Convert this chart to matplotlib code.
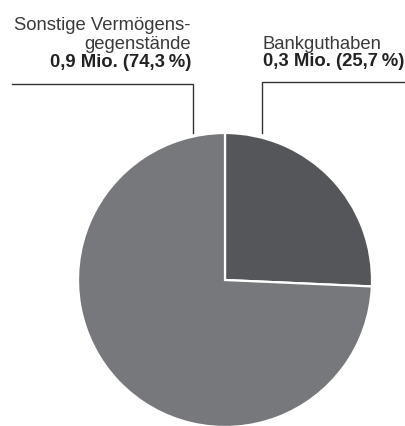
import matplotlib
matplotlib.use("Agg")
import matplotlib.pyplot as plt

categories = ["Bankguthaben", "Sonstige Vermögensgegenstände"]
values = [25.7, 74.3]
amounts = ["0,3 Mio.", "0,9 Mio."]
colors = ["#55565a", "#77787c"]

plt.rcParams['font.family'] = ['Liberation Sans', 'DejaVu Sans']

W, H = 405, 427
fig = plt.figure(figsize=(W / 100, H / 100), dpi=100)
ax = fig.add_axes([0, 0, 1, 1])

cx, cy, r = 225, H - 281, 147
ax.pie(values, colors=colors, startangle=90, counterclock=False,
       center=(cx, cy), radius=r,
       wedgeprops=dict(edgecolor="white", linewidth=1.6))
ax.set_xlim(0, W)
ax.set_ylim(0, H)
ax.set_aspect("equal")
ax.axis("off")

fs = 13.3
tc = "#3a3a3a"
# left label
ax.text(191, H - 29.5, "Sonstige Vermögens-", ha="right", va="baseline", fontsize=fs, color=tc)
ax.text(191, H - 49, "gegenstände", ha="right", va="baseline", fontsize=fs, color=tc)
ax.text(191, H - 67, f"{amounts[1]} ({str(values[1]).replace('.', ',')}\u2009%)",
        ha="right", va="baseline", fontsize=fs, color="#222222", fontweight="bold")
# right label
ax.text(263, H - 49, categories[0], ha="left", va="baseline", fontsize=fs, color=tc)
ax.text(263, H - 66, f"{amounts[0]} ({str(values[0]).replace('.', ',')}\u2009%)",
        ha="left", va="baseline", fontsize=fs, color="#222222", fontweight="bold")

lc = "#333333"
ax.plot([12, 193, 193], [H - 85, H - 85, H - 134], color=lc, lw=1.0, solid_joinstyle="miter")
ax.plot([405, 262, 262], [H - 83, H - 83, H - 134], color=lc, lw=1.0, solid_joinstyle="miter")

fig.savefig("out.png", dpi=100)
